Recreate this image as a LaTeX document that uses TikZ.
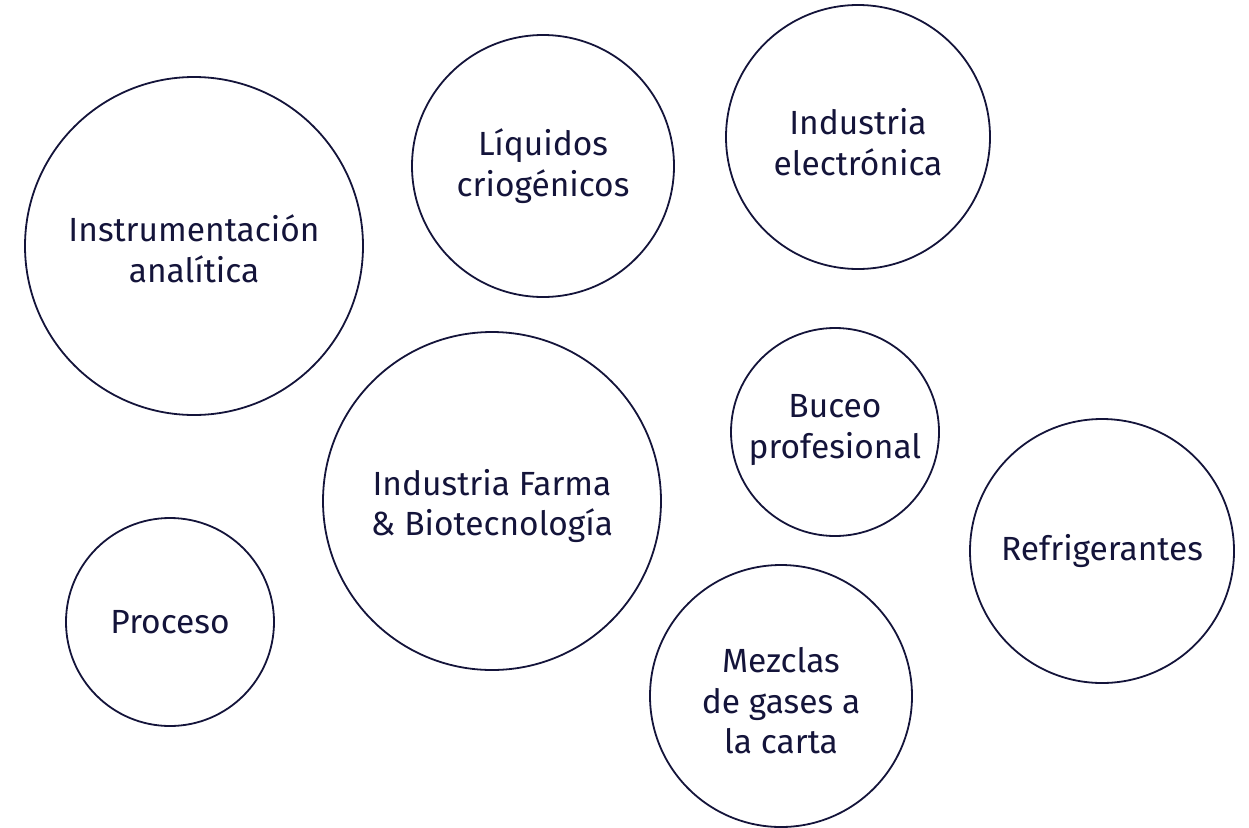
\documentclass[tikz,border=0pt]{standalone}
\usepackage{fontspec}
\setmainfont{Fira Sans}
\definecolor{navy}{HTML}{14143A}
\begin{document}
\begin{tikzpicture}[x=1pt,y=-1pt,
  bubble/.style={circle,draw=navy,line width=1.8pt,inner sep=0pt},
  lbl/.style={align=center,text=navy,inner sep=0pt,font=\fontsize{33.5}{40.5}\selectfont}]
\useasboundingbox (0,0) rectangle (1249,827);
\node[bubble,minimum size=338pt] (inst) at (194,246) {};
\node[bubble,minimum size=262pt] (liq) at (543,166) {};
\node[bubble,minimum size=264pt] (elec) at (858,137) {};
\node[bubble,minimum size=338pt] (farma) at (492,501) {};
\node[bubble,minimum size=208pt] (buceo) at (835,432) {};
\node[bubble,minimum size=264pt] (refr) at (1102,551) {};
\node[bubble,minimum size=208pt] (proc) at (170,622) {};
\node[bubble,minimum size=262pt] (mezc) at (781,696) {};
\node[lbl] (tinst) at ([yshift=-3pt]inst.center) {Instrumentación\\analítica};
\node[lbl] (tliq) at (liq.center) {Líquidos\\criogénicos};
\node[lbl] (telec) at ([yshift=-5pt]elec.center) {Industria\\electrónica};
\node[lbl] (tfarma) at ([yshift=-5pt]farma.center) {Industria Farma\\\& Biotecnología};
\node[lbl] (tbuceo) at ([yshift=2pt]buceo.center) {Buceo\\profesional};
\node[lbl] (trefr) at (refr.center) {Refrigerantes};
\node[lbl] (tproc) at (proc.center) {Proceso};
\node[lbl] (tmezc) at ([yshift=-5pt]mezc.center) {Mezclas\\de gases a\\la carta};
\end{tikzpicture}
\end{document}
